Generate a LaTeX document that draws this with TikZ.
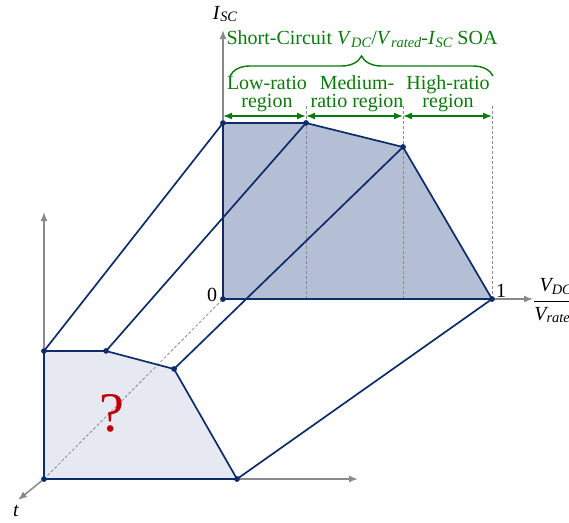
\documentclass[tikz,border=0pt]{standalone}
\usepackage{fontspec}
\setmainfont{Liberation Serif}
\usepackage{tikz}
\usetikzlibrary{
  arrows.meta,
  positioning,
  decorations.pathreplacing
}
\definecolor{FigNavy}{HTML}{0F2C6A}
\definecolor{FigBackFill}{HTML}{B4BED4}
\definecolor{FigFrontFill}{HTML}{E6E9F1}
\definecolor{FigGreen}{HTML}{0A7A0A}
\definecolor{FigAxis}{HTML}{8A8A8A}
\definecolor{FigRed}{HTML}{C00000}
\newcommand{\lowsub}[1]{\raisebox{-0.3ex}{\scalebox{0.72}{\textit{#1}}}}

\begin{document}
\begin{tikzpicture}[
x=1pt, y=-1pt,
font=\fontsize{20}{18}\selectfont,
>=Latex,
dot/.style={
circle,
fill=FigNavy,
inner sep=0pt,
minimum size=5.5pt
},
edge/.style={
draw=FigNavy,
line width=1.7pt,
line join=round
},
axis/.style={
draw=FigAxis,
line width=1.5pt,
-{Latex[length=9pt,width=7pt]}
},
guide/.style={
draw=FigAxis,
densely dashed,
line width=0.8pt
},
span/.style={
draw=FigGreen,
line width=1.4pt,
{Latex[length=9pt,width=7pt]}-{Latex[length=9pt,width=7pt]}
},
region/.style={
text=FigGreen,
align=center,
inner sep=0pt
}
]
\useasboundingbox (0,0) rectangle (569,522);

% Front plane (unknown SOA at time t)
\node[dot] (f0) at (44,479) {};
\node[dot] (f1) at (44,351) {};
\node[dot] (f2) at (106,351) {};
\node[dot] (f3) at (174,369) {};
\node[dot] (f4) at (237,479) {};

% Back plane (short-circuit SOA)
\node[dot] (b0) at (223,299) {};
\node[dot] (b1) at (223,123) {};
\node[dot] (b2) at (306,123) {};
\node[dot] (b3) at (403,147) {};
\node[dot] (b4) at (492,299) {};

\fill[FigFrontFill] (f0.center) -- (f1.center) -- (f2.center) -- (f3.center) -- (f4.center) -- cycle;
\fill[FigBackFill] (b0.center) -- (b1.center) -- (b2.center) -- (b3.center) -- (b4.center) -- cycle;

% Axes
\coordinate (fy) at (44,212);
\coordinate (fx) at (358,479);
\coordinate (ft) at (18,500);
\coordinate (by) at (223,30);
\coordinate (bx) at (533,299);
\draw[axis] (f0.center) -- (fy);
\draw[axis] (f4.center) -- (fx);
\draw[axis] (f0.center) -- (ft);
\draw[axis] (b0.center) -- (by);
\draw[axis] (b4.center) -- (bx);
\draw[guide] (f0.center) -- (b0.center);
\node[inner sep=0pt] (tlab) at (16,511) {\textit{t}};
\node[inner sep=0pt] (ilab) at (225,14) {\textit{I}\lowsub{SC}};
\node[inner sep=0pt, anchor=west] (vlab) at (533,301) {$\displaystyle\frac{\textit{V}\lowsub{DC}}{\textit{V}\lowsub{rated}}$};
\node[inner sep=0pt] (zero) at (212,295) {0};
\node[inner sep=0pt] (one) at (501,291) {1};

% Region guides
\coordinate (g2) at (306,104);
\coordinate (g3) at (403,104);
\coordinate (g4) at (492,104);
\draw[guide] (b2.center |- b0.center) -- (g2);
\draw[guide] (g3 |- b0.center) -- (g3);
\draw[guide] (b4.center) -- (g4);

% Outlines
\draw[edge] (f0.center) -- (f1.center) -- (f2.center) -- (f3.center) -- (f4.center) -- cycle;
\draw[edge] (b0.center) -- (b1.center) -- (b2.center) -- (b3.center) -- (b4.center) -- cycle;
\foreach \i in {1,...,4}{
  \draw[edge] (f\i.center) -- (b\i.center);
}
\foreach \p in {f0,f1,f2,f3,f4,b0,b1,b2,b3,b4}{
  \node[dot] at (\p) {};
}

% Regions
\coordinate (a1) at (223,116);
\coordinate (a2) at (306,116);
\coordinate (a3) at (403,116);
\coordinate (a4) at (492,116);
\draw[span] (a1) -- (a2);
\draw[span] (a2) -- (a3);
\draw[span] (a3) -- (a4);
\node[region] (low) at (267,94) {Low-ratio\\region};
\node[region] (med) at (357,94) {Medium-\\ratio region};
\node[region] (high) at (448,94) {High-ratio\\region};
\draw[draw=FigGreen, line width=1.4pt,
  decoration={brace, amplitude=20pt}, decorate] (230,76) -- (493,76);
\node[region] (title) at (362,39) {Short-Circuit \textit{V}\lowsub{DC}/\textit{V}\lowsub{rated}-\textit{I}\lowsub{SC} SOA};

\node[text=FigRed, font=\fontsize{56}{56}\selectfont] (unknown) at (112,413) {?};

\end{tikzpicture}
\end{document}
